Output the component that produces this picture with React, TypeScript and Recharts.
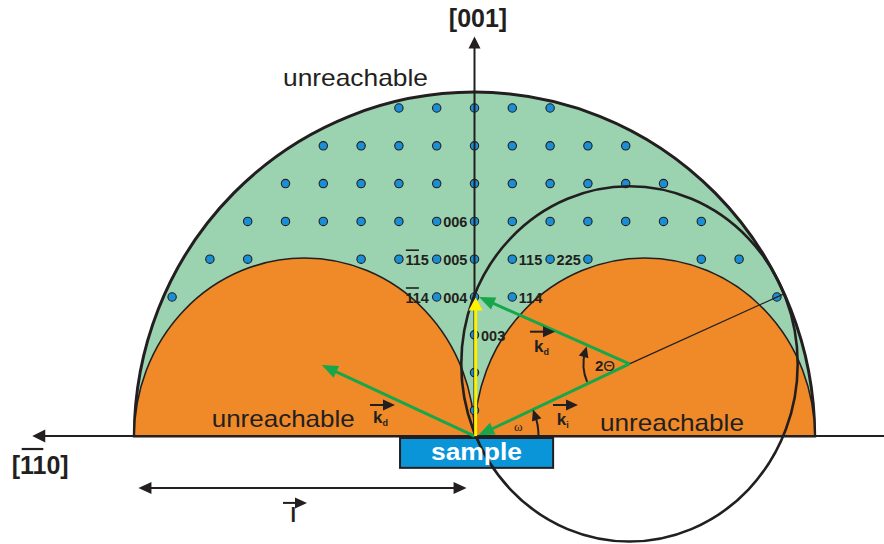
import React from 'react';
import { ScatterChart, Scatter, XAxis, YAxis, ReferenceArea, ReferenceLine, ReferenceDot } from 'recharts';

// reciprocal lattice spots that fall in the reachable (green) region, one row per l
const spotRowL = [9, 8, 7, 6, 5, 4, 3, 2, 1];
const spotRowH = [
  [-2, -1, 0, 1, 2],
  [-4, -3, -2, -1, 0, 1, 2, 3, 4],
  [-5, -4, -3, -2, -1, 0, 1, 2, 3, 4, 5],
  [-6, -5, -4, -3, -2, -1, 0, 1, 2, 3, 4, 5, 6],
  [-7, -6, -3, -2, -1, 0, 1, 2, 3, 6, 7],
  [-8, -1, 0, 1, 8],
  [0],
  [0],
  [0],
];

// index labels, written just right of a lattice position
const labelText = ['006', '115', '005', '114', '004', '115', '225', '114', '003'];
const labelH = [-1, -2, -1, -2, -1, 1, 2, 1, 0];
const labelL = [6, 5, 5, 4, 4, 5, 5, 4, 3];
const labelBar = [false, true, false, true, false, false, false, false, false];

// geometry in lattice units (h along [-1-10], l along [001])
const SURFACE = 0.32; // sample surface sits slightly above l = 0
const LIMIT_RX = 9.0;
const LIMIT_RY = 9.1;
const LAUE_RX = 4.5;
const LAUE_RY = 4.71;
const EWALD_H = 4.1;
const EWALD_L = 2.23;
const EWALD_RX = 4.45;
const EWALD_RY = 4.7;
const REFLEX_H = 0.12;
const REFLEX_L = 4.0;

// page layout
const W = 884;
const H = 544;
const SCALE = 37.8;
const ORIGIN_X = 474.5;
const L0_Y = 448.2;
const X_DOMAIN = [-ORIGIN_X / SCALE, (W - ORIGIN_X) / SCALE];
const Y_DOMAIN = [(L0_Y - H) / SCALE, L0_Y / SCALE];

const INK = '#231f20';
const GREEN_FILL = '#9bd3b0';
const ORANGE = '#f08a28';
const SPOT = '#1b8fd5';
const ARROW_GREEN = '#18a64b';
const YELLOW = '#fff200';
const SAMPLE = '#0a95d9';
const FONT = '"Liberation Sans", Arial, Helvetica, sans-serif';

const spots = spotRowL.flatMap((l, i) => spotRowH[i].map((h) => ({ h, l })));
const labels = labelText.map((text, i) => ({ h: labelH[i], l: labelL[i], text, bar: labelBar[i] }));

const headPts = (tx: number, ty: number, ux: number, uy: number, len: number, w: number) => {
  const bx = tx - ux * len;
  const by = ty - uy * len;
  const px = (-uy * w) / 2;
  const py = (ux * w) / 2;
  return `${tx},${ty} ${bx + px},${by + py} ${bx - px},${by - py}`;
};

const arrowShape = (color: string, width: number, both = false, len = 13, w = 12) => (p: any) => {
  const { x1, y1, x2, y2 } = p;
  const d = Math.hypot(x2 - x1, y2 - y1) || 1;
  const ux = (x2 - x1) / d;
  const uy = (y2 - y1) / d;
  const cut = len * 0.6;
  return (
    <g>
      <line
        x1={both ? x1 + ux * cut : x1}
        y1={both ? y1 + uy * cut : y1}
        x2={x2 - ux * cut}
        y2={y2 - uy * cut}
        stroke={color}
        strokeWidth={width}
      />
      <polygon points={headPts(x2, y2, ux, uy, len, w)} fill={color} />
      {both && <polygon points={headPts(x1, y1, -ux, -uy, len, w)} fill={color} />}
    </g>
  );
};

const halfDisc = (fill: string, strokeW: number) => (p: any) => {
  const { x, y, width, height } = p;
  const b = y + height;
  return (
    <path
      d={`M${x},${b} A${width / 2},${height} 0 0 1 ${x + width},${b} Z`}
      fill={fill}
      stroke={INK}
      strokeWidth={strokeW}
    />
  );
};

const ring = (p: any) => (
  <ellipse
    cx={p.x + p.width / 2}
    cy={p.y + p.height / 2}
    rx={p.width / 2}
    ry={p.height / 2}
    fill="none"
    stroke={INK}
    strokeWidth={2.6}
  />
);

const sampleBox = (p: any) => (
  <rect x={p.x} y={p.y} width={p.width} height={p.height} fill={SAMPLE} stroke={INK} strokeWidth={2} />
);

// curved angle arrow around a point, angles in screen degrees
const arcArrow = (r: number, a1: number, a2: number) => (p: any) => {
  const { cx, cy } = p;
  const t1 = (a1 * Math.PI) / 180;
  const t2 = (a2 * Math.PI) / 180;
  const sx = cx + r * Math.cos(t1);
  const sy = cy + r * Math.sin(t1);
  const ex = cx + r * Math.cos(t2);
  const ey = cy + r * Math.sin(t2);
  const s = a2 > a1 ? 1 : -1;
  const ux = -Math.sin(t2) * s;
  const uy = Math.cos(t2) * s;
  const tx = ex + ux * 5;
  const ty = ey + uy * 5;
  return (
    <g>
      <path d={`M${sx},${sy} A${r},${r} 0 0 ${s > 0 ? 1 : 0} ${ex},${ey}`} fill="none" stroke={INK} strokeWidth={2} />
      <polygon points={headPts(tx, ty, ux, uy, 11, 10)} fill={INK} />
    </g>
  );
};

const note = (text: string, size: number, bold = false, anchor = 'start', fill = INK, fit?: number) => (p: any) => (
  <text
    x={p.cx}
    y={p.cy}
    fontSize={size}
    fontFamily={FONT}
    fontWeight={bold ? 'bold' : 'normal'}
    textAnchor={anchor}
    fill={fill}
    textLength={fit}
    lengthAdjust={fit ? 'spacingAndGlyphs' : undefined}
  >
    {text}
  </text>
);

const vecLabel = (main: string, sub: string, a0: number, a1: number, dy: number, anchor = 'start', size = 17) => (p: any) => {
  const { cx, cy } = p;
  const ay = cy + dy;
  return (
    <g>
      <line x1={cx + a0} y1={ay} x2={cx + a1 - 7} y2={ay} stroke={INK} strokeWidth={2} />
      <polygon points={headPts(cx + a1, ay, 1, 0, 12, 11)} fill={INK} />
      <text x={cx} y={cy} fontSize={size} fontFamily={FONT} fontWeight="bold" textAnchor={anchor} fill={INK}>
        {main}
        {sub && (
          <tspan fontSize={9} dy={3}>
            {sub}
          </tspan>
        )}
      </text>
    </g>
  );
};

const spotShape = (p: any) => (
  <circle cx={p.cx} cy={p.cy} r={4.2} fill={SPOT} stroke={INK} strokeWidth={1.1} />
);

const labelShape = (p: any) => {
  const x = p.cx + 6.5;
  const y = p.cy + 6;
  return (
    <g>
      <text x={x} y={y} fontSize={14.5} fontFamily={FONT} fontWeight="bold" fill={INK}>
        {p.payload.text}
      </text>
      {p.payload.bar && <line x1={x + 0.5} x2={x + 13.5} y1={y - 15} y2={y - 15} stroke={INK} strokeWidth={1.6} />}
    </g>
  );
};

const axisLabel110 = (p: any) => (
  <g>
    <text x={p.cx} y={p.cy} fontSize={25} fontFamily={FONT} fontWeight="bold" fill={INK}>
      [110]
    </text>
    <line x1={p.cx + 10} x2={p.cx + 31.6} y1={p.cy - 25} y2={p.cy - 25} stroke={INK} strokeWidth={2.2} />
  </g>
);

const twoTheta = (p: any) => (
  <text x={p.cx} y={p.cy} fontSize={15} fontFamily={FONT} fill={INK}>
    <tspan fontWeight="bold">2</tspan>
    <tspan>Θ</tspan>
  </text>
);

const omega = (p: any) => (
  <text x={p.cx} y={p.cy} fontSize={13} fontFamily='"Liberation Serif", "DejaVu Serif", serif' fill={INK}>
    ω
  </text>
);

export default function App() {
  return (
    <div style={{ position: 'absolute', left: 0, top: 0, width: W, height: H, background: '#fff' }}>
      <ScatterChart width={W} height={H} margin={{ top: 0, right: 0, bottom: 0, left: 0 }}>
        <XAxis type="number" dataKey="h" domain={X_DOMAIN} hide allowDataOverflow />
        <YAxis type="number" dataKey="l" domain={Y_DOMAIN} hide allowDataOverflow />

        {/* reachable half sphere and the two blocked half discs */}
        <ReferenceArea x1={-LIMIT_RX} x2={LIMIT_RX} y1={SURFACE} y2={SURFACE + LIMIT_RY} ifOverflow="visible" shape={halfDisc(GREEN_FILL, 3)} zIndex={1} />
        <ReferenceArea x1={-2 * LAUE_RX} x2={0} y1={SURFACE} y2={SURFACE + LAUE_RY} ifOverflow="visible" shape={halfDisc(ORANGE, 1.6)} zIndex={2} />
        <ReferenceArea x1={0} x2={2 * LAUE_RX} y1={SURFACE} y2={SURFACE + LAUE_RY} ifOverflow="visible" shape={halfDisc(ORANGE, 1.6)} zIndex={3} />

        <Scatter data={spots} shape={spotShape} isAnimationActive={false} zIndex={4} />

        <ReferenceArea x1={-1.97} x2={2.08} y1={0.27} y2={-0.52} ifOverflow="visible" shape={sampleBox} zIndex={5} />
        <ReferenceArea x1={EWALD_H - EWALD_RX} x2={EWALD_H + EWALD_RX} y1={EWALD_L - EWALD_RY} y2={EWALD_L + EWALD_RY} ifOverflow="visible" shape={ring} zIndex={6} />
        <ReferenceLine segment={[{ x: EWALD_H, y: EWALD_L }, { x: 8.2, y: 4.09 }]} ifOverflow="visible" stroke={INK} strokeWidth={1.2} zIndex={7} />

        {/* axes */}
        <ReferenceLine segment={[{ x: 0, y: SURFACE }, { x: 0, y: 10.89 }]} ifOverflow="visible" shape={arrowShape(INK, 2, false, 12, 12)} zIndex={8} />
        <ReferenceLine segment={[{ x: X_DOMAIN[1], y: SURFACE }, { x: -11.7, y: SURFACE }]} ifOverflow="visible" shape={arrowShape(INK, 2, false, 13, 13)} zIndex={9} />
        <ReferenceLine segment={[{ x: -8.89, y: -1.053 }, { x: -0.21, y: -1.053 }]} ifOverflow="visible" shape={arrowShape(INK, 2, true, 13, 12)} zIndex={10} />

        {/* scattering vectors */}
        <ReferenceLine segment={[{ x: 0, y: SURFACE }, { x: -4.04, y: 2.2 }]} ifOverflow="visible" shape={arrowShape(ARROW_GREEN, 3, false, 16, 13)} zIndex={11} />
        <ReferenceLine segment={[{ x: EWALD_H, y: EWALD_L }, { x: 0.1, y: SURFACE + 0.02 }]} ifOverflow="visible" shape={arrowShape(ARROW_GREEN, 3, false, 16, 13)} zIndex={12} />
        <ReferenceLine segment={[{ x: 0.03, y: SURFACE }, { x: 0.03, y: REFLEX_L - 0.01 }]} ifOverflow="visible" shape={arrowShape(YELLOW, 3, false, 13, 14)} zIndex={13} />
        <ReferenceLine segment={[{ x: EWALD_H, y: EWALD_L }, { x: REFLEX_H, y: REFLEX_L }]} ifOverflow="visible" shape={arrowShape(ARROW_GREEN, 3, false, 16, 13)} zIndex={14} />

        <ReferenceDot x={0} y={SURFACE} ifOverflow="visible" shape={arcArrow(64, 0, -20)} zIndex={15} />
        <ReferenceDot x={EWALD_H} y={EWALD_L} ifOverflow="visible" shape={arcArrow(46, 157, 196)} zIndex={16} />

        <Scatter data={labels} shape={labelShape} isAnimationActive={false} zIndex={17} />

        {/* text */}
        <ReferenceDot x={-5.066} y={9.582} ifOverflow="visible" shape={note('unreachable', 24, false, 'start', INK, 145)} zIndex={18} />
        <ReferenceDot x={-6.952} y={0.553} ifOverflow="visible" shape={note('unreachable', 24, false, 'start', INK, 143)} zIndex={18} />
        <ReferenceDot x={3.32} y={0.455} ifOverflow="visible" shape={note('unreachable', 24, false, 'start', INK, 144)} zIndex={18} />
        <ReferenceDot x={0.093} y={11.151} ifOverflow="visible" shape={note('[001]', 25, true, 'middle')} zIndex={18} />
        <ReferenceDot x={-12.243} y={-0.683} ifOverflow="visible" shape={axisLabel110} zIndex={18} />
        <ReferenceDot x={0.053} y={-0.312} ifOverflow="visible" shape={note('sample', 24, true, 'middle', '#ffffff', 91)} zIndex={18} />
        <ReferenceDot x={1.574} y={2.553} ifOverflow="visible" shape={vecLabel('k', 'd', -4, 21, -20)} zIndex={18} />
        <ReferenceDot x={2.175} y={0.614} ifOverflow="visible" shape={vecLabel('k', 'i', -3.7, 21.3, -20)} zIndex={18} />
        <ReferenceDot x={-2.685} y={0.659} ifOverflow="visible" shape={vecLabel('k', 'd', -3, 22, -18.3)} zIndex={18} />
        <ReferenceDot x={-4.794} y={-1.95} ifOverflow="visible" shape={vecLabel('l', '', -10.3, 13.7, -19, 'middle', 20)} zIndex={18} />
        <ReferenceDot x={3.188} y={2.05} ifOverflow="visible" shape={twoTheta} zIndex={18} />
        <ReferenceDot x={1.045} y={0.463} ifOverflow="visible" shape={omega} zIndex={18} />
      </ScatterChart>
    </div>
  );
}
